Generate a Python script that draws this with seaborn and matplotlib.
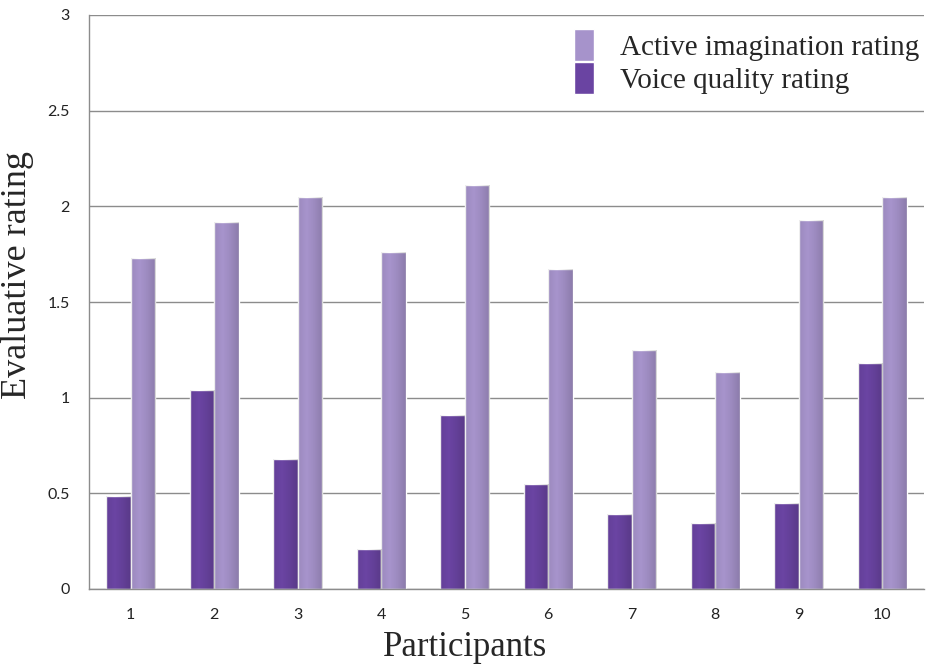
import matplotlib
matplotlib.use("Agg")
import matplotlib.pyplot as plt
import seaborn as sns
import pandas as pd
import numpy as np

# data
participants = ["1", "2", "3", "4", "5", "6", "7", "8", "9", "10"]
active_imagination = [1.73, 1.92, 2.05, 1.76, 2.11, 1.675, 1.25, 1.135, 1.93, 2.05]
voice_quality = [0.485, 1.04, 0.68, 0.21, 0.91, 0.55, 0.39, 0.345, 0.45, 1.18]
series_names = ["Voice quality rating", "Active imagination rating"]

df = pd.DataFrame({
    "Participants": participants * 2,
    "rating": voice_quality + active_imagination,
    "series": [series_names[0]] * len(participants) + [series_names[1]] * len(participants),
})

sns.set_style("white")
plt.rcParams["font.family"] = ["Lato", "DejaVu Sans"]

fig = plt.figure(figsize=(9.26, 6.64), dpi=100)
ax = fig.add_axes([89 / 926, 1 - 589 / 664, 835 / 926, 574 / 664])

palette = {series_names[0]: "#6a44a2", series_names[1]: "#a693cb"}
sns.barplot(data=df, x="Participants", y="rating", hue="series", hue_order=series_names,
            palette=palette, width=0.59, saturation=1, ax=ax, legend=True)

# cylinder-like shading on each bar
for bar in ax.patches:
    x0, y0 = bar.get_x(), bar.get_y()
    w, h = bar.get_width(), bar.get_height()
    if h <= 0:
        continue
    grad = np.linspace(0, 1, 64)
    shade = 0.28 * np.abs(grad - 0.35) ** 1.3
    rgba = np.zeros((1, 64, 4))
    rgba[..., 3] = shade
    im = ax.imshow(rgba, extent=[x0, x0 + w, y0, y0 + h], aspect="auto", zorder=bar.get_zorder() + 0.1)
    im.set_clip_path(bar)

ax.set_xlim(-0.5, 9.5)
ax.set_ylim(0, 3)
ax.set_yticks([0, 0.5, 1, 1.5, 2, 2.5, 3])
ax.set_yticklabels(["0", "0.5", "1", "1.5", "2", "2.5", "3"])
ax.yaxis.grid(True, color="#8c8c8c", linewidth=1)
ax.set_axisbelow(True)
ax.tick_params(axis="both", labelsize=11.5, length=0, colors="#222222")
ax.tick_params(axis="y", pad=14)
ax.tick_params(axis="x", pad=14)

for side in ["top", "right"]:
    ax.spines[side].set_visible(False)
for side in ["left", "bottom"]:
    ax.spines[side].set_color("#8c8c8c")
    ax.spines[side].set_linewidth(1)

ax.set_xlabel("Participants", family="Liberation Serif", fontsize=25)
ax.set_ylabel("Evaluative rating", family="Liberation Serif", fontsize=26)
ax.xaxis.set_label_coords((465 - 89) / 835, -(647 - 589) / 574)
ax.yaxis.set_label_coords(-(89 - 18) / 835, (589 - 275) / 574)
ax.yaxis.label.set_va("center")
ax.xaxis.label.set_va("center")

handles, labels = ax.get_legend_handles_labels()
ax.legend(handles[::-1], labels[::-1], loc="upper right", bbox_to_anchor=(1.026, 1.021),
          frameon=False, prop={"family": "Liberation Serif", "size": 21},
          handlelength=0.7, handleheight=1.3, handletextpad=0.9, labelspacing=0.05)

fig.savefig("out.png", dpi=100)
